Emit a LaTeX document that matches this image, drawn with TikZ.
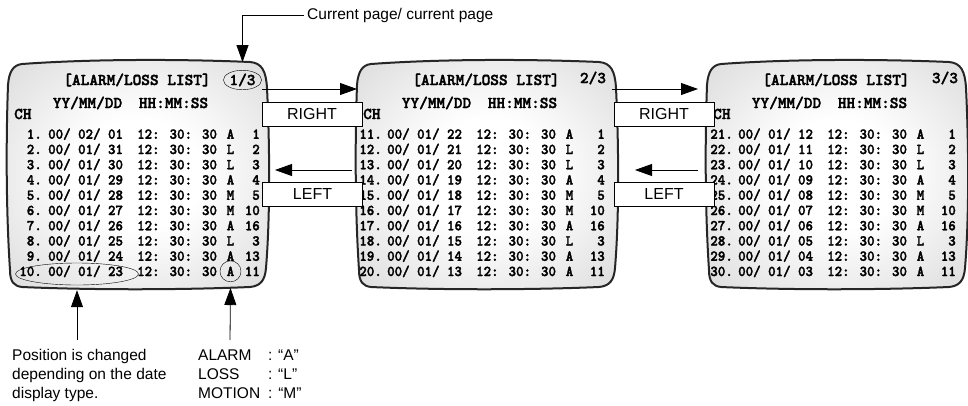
\documentclass[tikz,border=0pt]{standalone}
\usepackage{fontspec}
\newfontfamily\labelfont{Liberation Sans}
\newfontfamily\osdfont{lmmonolt10-bold.otf}[FakeStretch=0.95, FakeBold=2]
\newfontfamily\osdheadfont{lmmonolt10-bold.otf}[FakeBold=2]
\usetikzlibrary{arrows.meta, shapes.geometric, positioning}
\pgfdeclareradialshading{crt}{\pgfpoint{0bp}{0bp}}{color(0bp)=(white); color(12bp)=(white); color(50bp)=(gray!45); color(71bp)=(gray!85)}

\begin{document}
\begin{tikzpicture}[x=1pt, y=-1pt,
    every node/.style={inner sep=0pt},
    screen/.style={draw=black!85, line width=2pt, shading=crt},
    osd/.style={font=\osdfont\fontsize{15}{17}\selectfont},
    osdhead/.style={font=\osdheadfont\fontsize{16.5}{18}\selectfont},
    keybox/.style={draw, fill=white, line width=0.8pt, minimum width=100pt, minimum height=24pt, font=\labelfont\fontsize{16}{18}\selectfont},
    note/.style={font=\labelfont\fontsize{15.5}{19}\selectfont, align=left},
    pointer/.style={-{Triangle[length=17pt, width=12pt]}, line width=0.8pt}
]
\useasboundingbox (0,0) rectangle (968,405);

% the three monitor screens
\foreach \dx in {0,349,699}
  \shadedraw[screen, shift={(\dx,0)}] (22,64) .. controls (90,59) and (180,59) .. (250,62)
    .. controls (262,63) and (266,71) .. (267,88)
    .. controls (270,150) and (270,220) .. (266,268)
    .. controls (265,281) and (260,286) .. (250,287)
    .. controls (180,290) and (90,290) .. (22,287)
    .. controls (14,286) and (10,282) .. (10,270)
    .. controls (6,210) and (6,140) .. (8,85)
    .. controls (9,72) and (13,65) .. (22,64) -- cycle;

% headings
\foreach \dx [count=\s] in {0,349,699}{
  \node[osdhead, anchor=base] (head\s) at (137+\dx,85) {[ALARM/LOSS LIST]};
  \node[osdhead, anchor=base] (ymd\s) at (87.5+\dx,108) {YY/MM/DD};
  \node[osdhead, anchor=base] (hms\s) at (173.5+\dx,108) {HH:MM:SS};
  \node[osdhead, anchor=base west] (ch\s) at (14+\dx,119) {CH};
}
\node[osdhead, draw, ellipse, inner sep=0.5pt] (page1) at (242.5,80) {1/3};
\node[osdhead] (page2) at (593,78) {2/3};
\node[osdhead] (page3) at (945,78) {3/3};

% page 1 rows
\foreach \nr/\mo/\dy/\ty/\chan [count=\i] in {1/02/01/A/1, 2/01/31/L/2, 3/01/30/L/3, 4/01/29/A/4, 5/01/28/M/5,
    6/01/27/M/10, 7/01/26/A/16, 8/01/25/L/3, 9/01/24/A/13, 10/01/23/A/11}{
  \pgfmathsetmacro{\y}{123.5+15.25*\i}
  \node[osd, anchor=base east] (pa\i) at (42,\y) {\nr.};
  \node[osd, anchor=base west] (pb\i) at (48,\y) {00/ \mo/ \dy};
  \node[osd, anchor=base west] (pc\i) at (137,\y) {12: 30: 30};
  \node[osd, anchor=base] (pd\i) at (230.5,\y) {\ty};
  \node[osd, anchor=base east] (pe\i) at (260,\y) {\chan};
}

% page 2 rows
\foreach \nr/\dy/\ty/\chan [count=\i] in {11/22/A/1, 12/21/L/2, 13/20/L/3, 14/19/A/4, 15/18/M/5,
    16/17/M/10, 17/16/A/16, 18/15/L/3, 19/14/A/13, 20/13/A/11}{
  \pgfmathsetmacro{\y}{123.5+15.25*\i}
  \node[osd, anchor=base east] (qa\i) at (382,\y) {\nr.};
  \node[osd, anchor=base west] (qb\i) at (387,\y) {00/ 01/ \dy};
  \node[osd, anchor=base west] (qc\i) at (476,\y) {12: 30: 30};
  \node[osd, anchor=base] (qd\i) at (569.5,\y) {\ty};
  \node[osd, anchor=base east] (qe\i) at (605,\y) {\chan};
}

% page 3 rows
\foreach \nr/\dy/\ty/\chan [count=\i] in {21/12/A/1, 22/11/L/2, 23/10/L/3, 24/09/A/4, 25/08/M/5,
    26/07/M/10, 27/06/A/16, 28/05/L/3, 29/04/A/13, 30/03/A/11}{
  \pgfmathsetmacro{\y}{123.5+15.25*\i}
  \node[osd, anchor=base east] (ra\i) at (733,\y) {\nr.};
  \node[osd, anchor=base west] (rb\i) at (738,\y) {00/ 01/ \dy};
  \node[osd, anchor=base west] (rc\i) at (827,\y) {12: 30: 30};
  \node[osd, anchor=base] (rd\i) at (920.5,\y) {\ty};
  \node[osd, anchor=base east] (re\i) at (956,\y) {\chan};
}

% marks on page 1
\node[draw, ellipse, minimum width=123pt, minimum height=22pt] (dateoval) at (77,274) {};
\node[draw, circle, minimum size=21pt] (alarmmark) at (pd10) {};

% paging keys
\node[keybox] (right1) at (312,114) {RIGHT};
\node[keybox] (left1) at (312.5,194) {LEFT};
\node[keybox] (right2) at (664,114) {RIGHT};
\node[keybox] (left2) at (664,194) {LEFT};

\coordinate (out1) at (262,89);
\coordinate (in2) at (357,89);
\coordinate (back2) at (352,170);
\coordinate (back1) at (275,170);
\coordinate (out2) at (612,89);
\coordinate (in3) at (698,89);
\coordinate (back3) at (698,170);
\coordinate (back2b) at (635,170);
\draw[pointer] (out1) -- (in2);
\draw[pointer] (back2) -- (back1);
\draw[pointer] (out2) -- (in3);
\draw[pointer] (back3) -- (back2b);

% callouts
\node[note, anchor=west] (pagenote) at (307,15) {Current page/ current page};
\draw[pointer] ([xshift=-3pt]pagenote.west) -| ([yshift=8pt]page1.north);

\node[note, anchor=north west] (posnote) at (12,349) {Position is changed\\depending on the date\\display type.};
\node[note, anchor=north west] (typenote) at (198,347) {\begin{tabular}{@{}p{70pt}@{}l@{}}ALARM & : “A”\\ LOSS & : “L”\\ MOTION & : “M”\end{tabular}};

\coordinate (postail) at (77,340);
\coordinate (alarmtail) at (230,340);
\draw[pointer] (postail) -- ([yshift=-5pt]dateoval.south);
\draw[pointer] (alarmtail) -- ([yshift=-6pt]alarmmark.south);
\end{tikzpicture}
\end{document}
